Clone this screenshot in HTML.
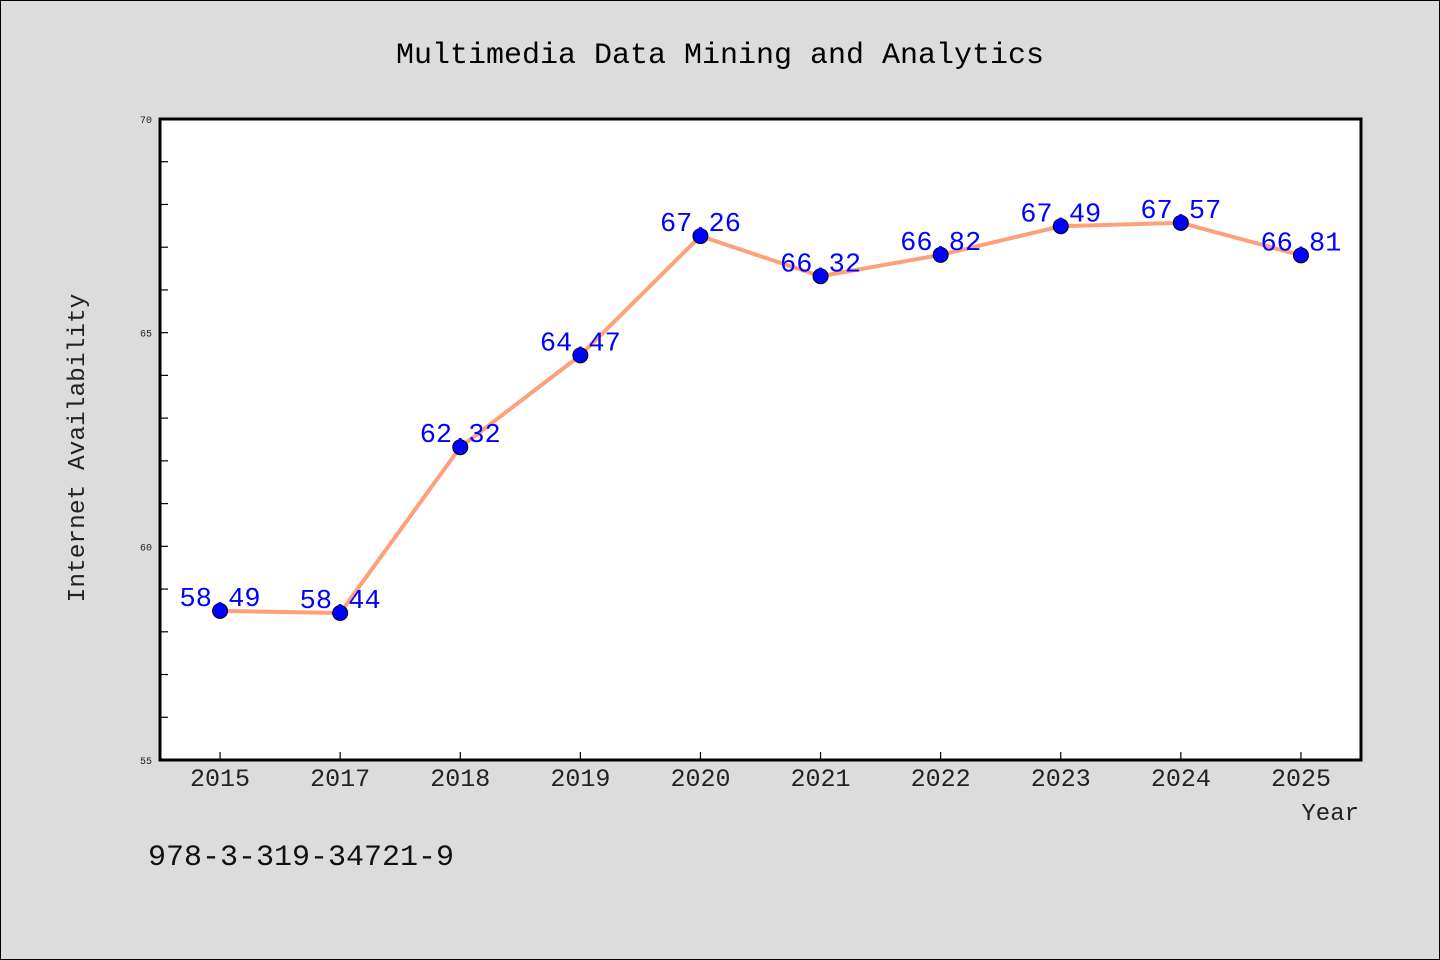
<!DOCTYPE html>
<html><head><meta charset="utf-8"><style>
body{margin:0;background:#dcdcdc;}
svg{display:block;font-family:"Liberation Mono",monospace;}
</style></head><body>
<svg id="chart" width="1440" height="960">
<rect x="0.5" y="0.5" width="1439" height="959" fill="#dcdcdc" stroke="#000"/>
<text x="720" y="63" text-anchor="middle" font-size="30" fill="#000">Multimedia Data Mining and Analytics</text>
<rect x="160" y="119" width="1201" height="641" fill="#fff"/>
<g id="axes"></g>
<g id="series"></g>
<rect x="160" y="119" width="1201" height="641" fill="none" stroke="#000" stroke-width="3"/>
<text x="84" y="448" text-anchor="middle" font-size="24.5" fill="#222" transform="rotate(-90 84 448)">Internet Availability</text>
<text x="1359" y="820" text-anchor="end" font-size="24" fill="#222">Year</text>
<text x="148" y="865" font-size="30" fill="#111">978-3-319-34721-9</text>
</svg>
<script>
const categories=["2015","2017","2018","2019","2020","2021","2022","2023","2024","2025"];
const values=[58.49,58.44,62.32,64.47,67.26,66.32,66.82,67.49,67.57,66.81];
const yTickLabels=[55,60,65,70];
const yMin=55,yMax=70;
const L=160,R=1361,T=119,B=760;
const ns="http://www.w3.org/2000/svg";
const band=(R-L)/categories.length;
const xs=i=>L+band*(i+0.5);
const ys=v=>B-(v-yMin)/(yMax-yMin)*(B-T);
const axes=document.getElementById('axes'),series=document.getElementById('series');
function mk(t,a,p){const e=document.createElementNS(ns,t);for(const k in a)e.setAttribute(k,a[k]);p.appendChild(e);return e;}
for(let v=yMin;v<=yMax;v++){
  const l=mk('line',{x1:L,x2:L+8,y1:ys(v),y2:ys(v),stroke:'#000','stroke-width':1.2},axes);
  
  
}
yTickLabels.forEach(v=>{
  const t=mk('text',{x:152,y:ys(v)+4,'text-anchor':'end','font-size':10,fill:'#222'},axes);
  t.textContent=v;
  
  
});
categories.forEach((c,i)=>{
  const l=mk('line',{x1:xs(i),x2:xs(i),y1:B,y2:B-8,stroke:'#000','stroke-width':1.2},axes);
  
  
  const t=mk('text',{x:xs(i),y:B+26,'text-anchor':'middle','font-size':25,fill:'#222'},axes);
  t.textContent=c;
  
  
});
const line=mk('polyline',{points:values.map((v,i)=>xs(i)+','+ys(v)).join(' '),fill:'none',stroke:'#ffa07a','stroke-width':4,'stroke-linejoin':'round'},series);


values.forEach((v,i)=>{
  const c=mk('circle',{cx:xs(i),cy:ys(v),r:7.5,fill:'#0000ff',stroke:'#000','stroke-width':1},series);
  
  
  const t=mk('text',{x:xs(i),y:ys(v)-5,'text-anchor':'middle','font-size':27,fill:'#0000ff'},series);
  t.textContent=v.toFixed(2);
  
  
});
</script>
</body></html>
